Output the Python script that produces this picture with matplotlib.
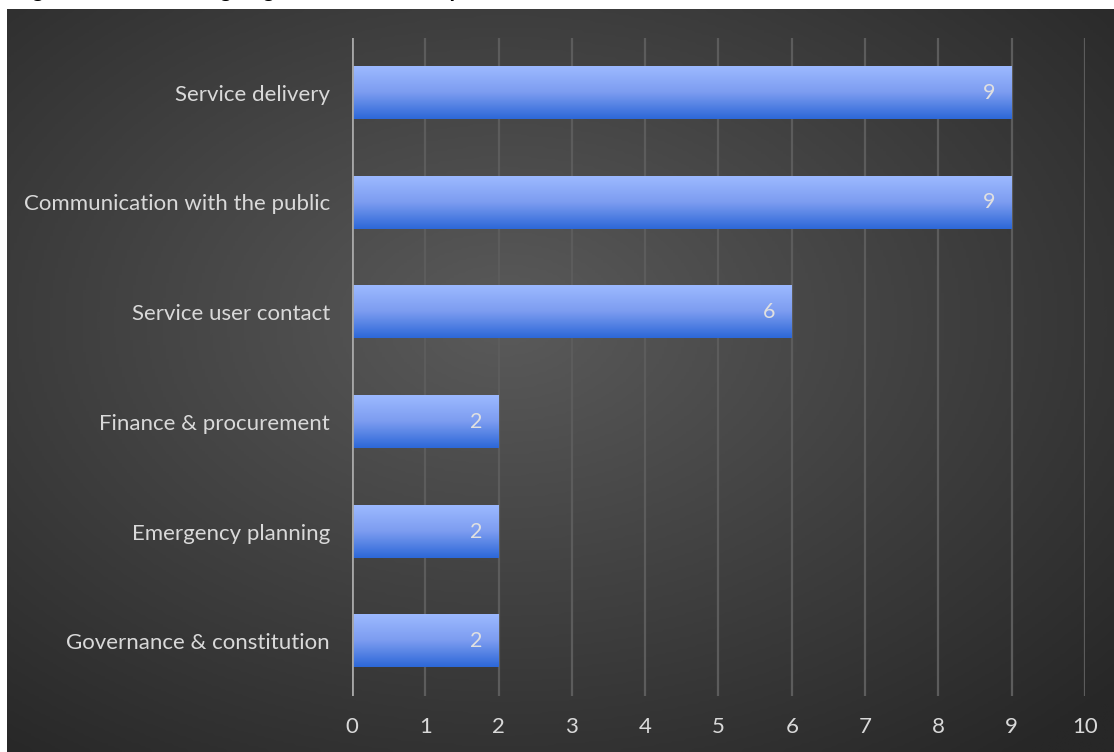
"""
Horizontal bar chart of areas by count, on a dark gradient panel
"""

import numpy as np
from matplotlib import pyplot as plt
from matplotlib.colors import LinearSegmentedColormap

categories = ["Service delivery", "Communication with the public", "Service user contact",
              "Finance & procurement", "Emergency planning", "Governance & constitution"]
counts = [9, 9, 6, 2, 2, 2]
xticks = list(range(0, 11))
title = "Figure 9: Areas of ongoing AI related development"

W, H = 1114, 752
FONT = "Lato"
fig = plt.figure(figsize=(W / 100, H / 100), dpi=100)
fig.patch.set_facecolor("white")

# title sits above the panel; only its descenders reach the page
fig.text(14 / W, 1 + 3 / H, title, fontsize=16, fontweight="bold", family=FONT,
         color="black", ha="left", va="baseline")

# dark panel with radial shading
bg = fig.add_axes([7 / W, 0, (W - 7) / W, (H - 9) / H])
bg.set_axis_off()
yy, xx = np.mgrid[0:1:300j, 0:1:400j]
r = np.sqrt(((xx - 0.45) / 0.75) ** 2 + ((yy - 0.42) / 0.75) ** 2)
shade = np.clip(1 - r, 0, 1)
bg_cmap = LinearSegmentedColormap.from_list("panel", ["#272727", "#5a5a5a"])
bg.imshow(shade, cmap=bg_cmap, aspect="auto", extent=[0, 1, 0, 1], origin="upper",
          interpolation="bilinear")

ax = fig.add_axes([352 / W, 56 / H, 733 / W, 658 / H])
ax.set_facecolor("none")
n = len(categories)

for x in xticks[1:]:
    ax.axvline(x, color="#5c5c5c", lw=1.6, zorder=1)
ax.axvline(0, color="#a6a6a6", lw=2, zorder=4)

bar_cmap = LinearSegmentedColormap.from_list("bar", ["#9cb9ff", "#7c9cf0", "#2d68d8"])
grad = np.linspace(0, 1, 64).reshape(-1, 1)
h = 0.475
for i, (cat, v) in enumerate(zip(categories, counts)):
    ax.imshow(grad, cmap=bar_cmap, aspect="auto", extent=[0, v, i + h / 2, i - h / 2],
              origin="upper", zorder=2, interpolation="bilinear")
    ax.text(v - 0.31, i, str(v), color="#e0e0e0", fontsize=15.5, family=FONT,
            ha="center", va="center", zorder=5)
ax.set_xlim(0, 10)
ax.set_ylim(n - 0.5, -0.5)

ax.set_yticks(range(n))
ax.set_yticklabels(categories)
ax.set_xticks(xticks)
ax.tick_params(length=0, colors="#d9d9d9", labelsize=16)
ax.tick_params(axis="y", pad=16)
ax.tick_params(axis="x", pad=15)
for lab in ax.get_xticklabels() + ax.get_yticklabels():
    lab.set_family(FONT)
    lab.set_color("#d9d9d9")
for s in ax.spines.values():
    s.set_visible(False)

fig.savefig("out.png", dpi=100, facecolor="white")
